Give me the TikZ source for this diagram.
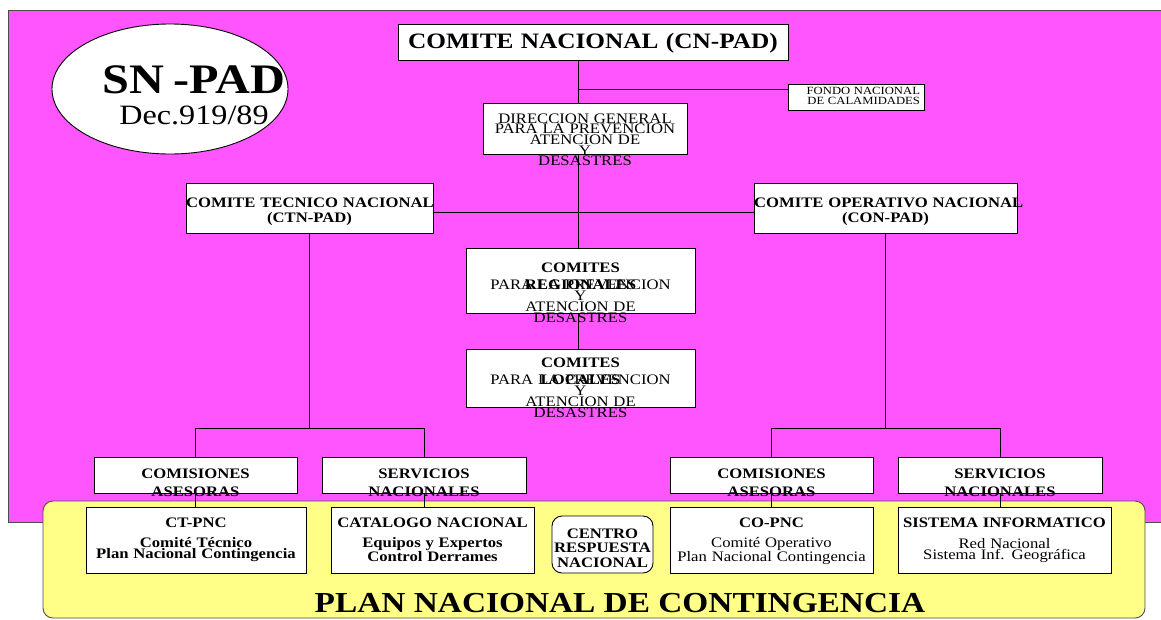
\documentclass[tikz,border=0pt]{standalone}
\usepackage{fontspec}
\setmainfont[FakeStretch=1.15]{Liberation Serif}
\usetikzlibrary{shapes.geometric}
\definecolor{snpadmag}{HTML}{FF55FF}
\definecolor{pncyellow}{HTML}{FFFF88}
\hyphenpenalty=10000
\lineskiplimit=-100pt
\begin{document}
\begin{tikzpicture}[x=1pt, y=-1pt, line width=0.9pt,
	box/.style={draw, fill=white, inner sep=0pt, align=center},
	boxsize/.style n args={3}{text width=#1pt, text height=#2pt, text depth=#3pt},
	txt/.style={font=\fontsize{14.5}{#1}\selectfont},
	btxt/.style={font=\bfseries\fontsize{14.5}{#1}\selectfont}]
	\useasboundingbox (0,0) rectangle (1161,619);
	\draw[draw=black!70, fill=snpadmag] (8,10) rectangle (1175,522);
	\draw[draw=black!70, fill=pncyellow, rounded corners=10pt] (43,501) rectangle (1145,618);
	
	\node[draw, fill=white, ellipse, minimum width=236pt, minimum height=130pt, inner sep=0pt] (snpad) at (170,89) {};
	\node[anchor=north, align=center, inner sep=0pt, text width=210pt, text height=28pt, text depth=35pt, font=\fontsize{28}{31}\selectfont] (snpadtxt) at (194,65) {{\bfseries\fontsize{42}{31}\selectfont SN -PAD}\\Dec.919/89};
	
	\node[box, boxsize={390}{24}{12}, font=\bfseries\fontsize{22}{24}\selectfont] (cn) at (593,42) {COMITE NACIONAL (CN-PAD)};
	\node[box, boxsize={128}{10}{16}, inner xsep=4pt, align=right, font=\fontsize{11}{10}\selectfont] (fondo) at (856,97) {FONDO NACIONAL\\DE CALAMIDADES};
	\node[box, boxsize={204}{20}{31}, txt=9.5] (dg) at (585,128.5) {DIRECCION GENERAL\\PARA LA PREVENCION\\ATENCION DE\\Y\\DESASTRES};
	\node[box, boxsize={247}{24}{26}, btxt=15] (ctn) at (309.5,208) {\mbox{COMITE TECNICO NACIONAL}\\(CTN-PAD)};
	\node[box, boxsize={263}{24}{26}, btxt=15] (con) at (885.5,208) {\mbox{COMITE OPERATIVO NACIONAL}\\(CON-PAD)};
	\node[box, boxsize={229}{24}{41}, txt=17] (rc) at (580.5,280.5) {\textbf{COMITES}\\\textbf{REGIONALES}\\[-17pt]PARA LA PREVENCION\\[-5.7pt]Y\\[-5.7pt]ATENCION DE\\[-5.7pt]DESASTRES};
	\node[box, boxsize={229}{18}{40}, txt=17] (lc) at (580.5,378) {\textbf{COMITES}\\\textbf{LOCALES}\\[-17pt]PARA LA PREVENCION\\[-5.7pt]Y\\[-5.7pt]ATENCION DE\\[-5.7pt]DESASTRES};
	
	\node[box, boxsize={203}{21}{15}, btxt=18] (ca1) at (195.5,475) {COMISIONES\\ASESORAS};
	\node[box, boxsize={204}{21}{15}, btxt=18] (sn1) at (424,475) {SERVICIOS\\NACIONALES};
	\node[box, boxsize={203}{21}{15}, btxt=18] (ca2) at (771.5,475) {COMISIONES\\ASESORAS};
	\node[box, boxsize={204}{21}{15}, btxt=18] (sn2) at (1000,475) {SERVICIOS\\NACIONALES};
	
	\node[box, boxsize={220}{20}{46}, btxt=11] (ct) at (196,540) {CT-PNC\\[9pt]Comité Técnico\\Plan Nacional Contingencia};
	\node[box, boxsize={203}{20}{46}, btxt=11] (cat) at (432.5,540) {CATALOGO NACIONAL\\[9pt]Equipos y Expertos\\Control Derrames};
	\node[box, rounded corners=10pt, boxsize={101}{22}{35}, btxt=14.5] (crn) at (602.5,544.5) {CENTRO\\RESPUESTA\\NACIONAL};
	\node[box, boxsize={203}{20}{46}, txt=11] (co) at (771.5,540) {\textbf{CO-PNC}\\[9pt]Comité Operativo\\Plan Nacional Contingencia};
	\node[box, boxsize={213}{20}{46}, txt=11] (sys) at (1004.5,540) {\textbf{\mbox{SISTEMA INFORMATICO}}\\[10pt]Red Nacional\\Sistema Inf. Geográfica};
	\node[font=\bfseries\fontsize{29}{30}\selectfont, inner sep=0pt, anchor=base] (plan) at (620,612) {PLAN NACIONAL DE CONTINGENCIA};
	
	\coordinate (spine) at (578,0);
	\coordinate (fj) at (578,89);
	\coordinate (hbar) at (0,212);
	\coordinate (bus) at (0,428);
	
	\draw (cn.south -| spine) -- (dg.north -| spine);
	\draw (fj) -- (fj -| fondo.west);
	\draw (dg.south -| spine) -- (rc.north -| spine);
	\draw (rc.south -| spine) -- (lc.north -| spine);
	\draw (ctn.east |- hbar) -- (con.west |- hbar);
	
	\draw (ctn.south) -- (ctn.south |- bus);
	\draw (ca1.north) |- (sn1.north |- bus) -- (sn1.north);
	\draw (con.south) -- (con.south |- bus);
	\draw (ca2.north) |- (sn2.north |- bus) -- (sn2.north);
	
	\draw (ca1.south) -- (ca1.south |- ct.north);
	\draw (sn1.south) -- (sn1.south |- cat.north);
	\draw (ca2.south) -- (ca2.south |- co.north);
	\draw (sn2.south) -- (sn2.south |- sys.north);
\end{tikzpicture}
\end{document}
